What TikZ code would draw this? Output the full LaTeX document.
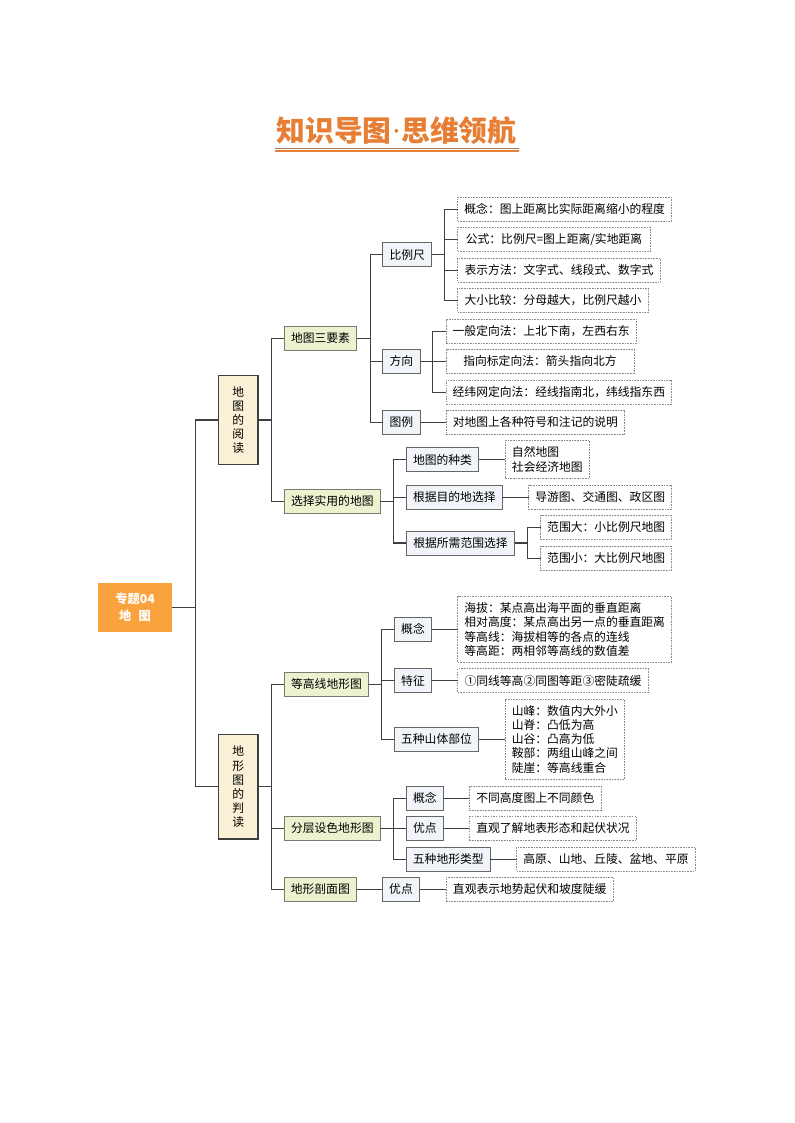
\documentclass[tikz,border=0pt]{standalone}
\usepackage{fontspec}
\setmainfont{Noto Sans CJK SC}
\newfontfamily\dotfont{Noto Sans}
\definecolor{lineC}{HTML}{404040}
\definecolor{rootF}{HTML}{F9A23E}
\definecolor{oneF}{HTML}{FAF1D6}
\definecolor{twoF}{HTML}{EBF2D0}
\definecolor{thrF}{HTML}{F1F5FA}
\definecolor{titleC}{HTML}{E67F35}
\definecolor{titleD}{HTML}{A9795A}
\tikzset{
  basebox/.style={inner sep=0pt,outer sep=0pt,align=center,text=black,font=\fontsize{8.85}{10.65}\selectfont},
  rootbox/.style={basebox,fill=rootF,text=white,font=\fontsize{9.2}{12.2}\selectfont\bfseries},
  onebox/.style={basebox,draw=lineC,fill=oneF,line width=0.95pt},
  twobox/.style={basebox,draw=black!50!twoF!70!gray,fill=twoF,line width=0.7pt},
  thrbox/.style={basebox,draw=lineC!80,fill=thrF,line width=0.7pt},
  notebox/.style={basebox,draw=black!45,dash pattern=on 1.2pt off 0.8pt,fill=white,line width=0.5pt},
  notel/.style={notebox,align=left},
  conn/.style={draw=lineC,line width=0.9pt,line join=miter}
}
% name, style, left, top, right, bottom, text
\newcommand{\bx}[7]{%
  \pgfmathsetmacro{\cxx}{(#3+#5)/2}%
  \pgfmathsetmacro{\cyy}{(#4+#6)/2}%
  \pgfmathsetmacro{\wwv}{(#5-#3)*0.75}%
  \pgfmathsetmacro{\hhv}{(#6-#4)*0.75}%
  \node[#2,minimum width=\wwv pt,minimum height=\hhv pt] (#1) at (\cxx,\cyy) {#7};}
% parent, child, trunk
\newcommand{\cn}[3]{\draw[conn] (#1.east) -- (#1.east -| #3) -- (#2.west -| #3) -- (#2.west);}
\begin{document}
\begin{tikzpicture}[x=0.75pt,y=-0.75pt]
\useasboundingbox (0,0) rectangle (794,1123);
\fill[white] (0,0) rectangle (794,1123);
% title
\node[inner sep=0pt,text=titleC,font=\fontsize{21.6}{24}\selectfont\bfseries] (title) at (396.5,131) {知识导图\hspace{0.03em}{\dotfont ·}\hspace{0.03em}思维领航};
\coordinate (ula) at (275,148.5);
\coordinate (ulb) at (519,148.5);
\coordinate (uca) at (275,151.2);
\coordinate (ucb) at (519,151.2);
\draw[titleD,line width=1.1pt] (ula) -- (ulb);
\draw[titleC,line width=1.2pt] (uca) -- (ucb);
% trunks
\coordinate (t0) at (195.5,0);
\coordinate (t1) at (271.5,0);
\coordinate (t2) at (370.5,0);
\coordinate (t3) at (444.5,0);
\coordinate (t4) at (432.5,0);
\coordinate (t5) at (393.5,0);
\coordinate (t6) at (527.5,0);
\coordinate (t7) at (381.5,0);
% nodes
\bx{root}{rootbox}{98.3}{582.7}{171.7}{631.7}{专题04\\地\hspace{0.6em}图}
\bx{a}{onebox}{218.3}{375.3}{258}{464.7}{地\\图\\的\\阅\\读}
\bx{b}{onebox}{218.3}{734.7}{258}{839}{地\\形\\图\\的\\判\\读}
\bx{a1}{twobox}{284.3}{326.3}{356.7}{350.3}{地图三要素}
\bx{a2}{twobox}{284.3}{489.3}{380.3}{513.3}{选择实用的地图}
\bx{b1}{twobox}{284.3}{672.3}{368.7}{696.3}{等高线地形图}
\bx{b2}{twobox}{284.3}{816.3}{380.3}{840.3}{分层设色地形图}
\bx{b3}{twobox}{284.3}{877.3}{356.3}{901.3}{地形剖面图}
\bx{a11}{thrbox}{382.7}{242.7}{431.7}{266.7}{比例尺}
\bx{a12}{thrbox}{382.7}{349.3}{420}{373.3}{方向}
\bx{a13}{thrbox}{382.7}{410.3}{420}{434.3}{图例}
\bx{a21}{thrbox}{406.3}{447.7}{478.7}{471.7}{地图的种类}
\bx{a22}{thrbox}{406.3}{485.3}{502.3}{509.3}{根据目的地选择}
\bx{a23}{thrbox}{406.3}{531}{514.7}{555}{根据所需范围选择}
\bx{b11}{thrbox}{394.3}{617.3}{431.7}{641.3}{概念}
\bx{b12}{thrbox}{394.3}{668.7}{431.7}{692.7}{特征}
\bx{b13}{thrbox}{394.3}{727.3}{478.7}{751.3}{五种山体部位}
\bx{b21}{thrbox}{406.3}{786.3}{443.3}{810.3}{概念}
\bx{b22}{thrbox}{406.3}{816.3}{443.3}{840.3}{优点}
\bx{b23}{thrbox}{406.3}{847.3}{490.3}{871.3}{五种地形类型}
\bx{b31}{thrbox}{382.3}{877.3}{419.7}{901.3}{优点}
\bx{n1}{notebox}{457.7}{197.3}{671.7}{221.3}{概念：图上距离比实际距离缩小的程度}
\bx{n2}{notebox}{457.7}{227.3}{650.3}{251.3}{公式：比例尺=图上距离/实地距离}
\bx{n3}{notebox}{457.7}{258.3}{660.3}{282.3}{表示方法：文字式、线段式、数字式}
\bx{n4}{notebox}{457.7}{288.3}{648.3}{312.3}{大小比较：分母越大，比例尺越小}
\bx{n5}{notebox}{446}{319.3}{636.3}{343.3}{一般定向法：上北下南，左西右东}
\bx{n6}{notebox}{446}{349.3}{634}{373.3}{指向标定向法：箭头指向北方}
\bx{n7}{notebox}{446}{380.3}{671.7}{404.3}{经纬网定向法：经线指南北，纬线指东西}
\bx{n8}{notebox}{446}{410.3}{624.7}{434.3}{对地图上各种符号和注记的说明}
\bx{n9}{notel}{505}{440.7}{589.7}{478.3}{自然地图\\社会经济地图}
\bx{n10}{notebox}{528.7}{485.3}{671.7}{509.3}{导游图、交通图、政区图}
\bx{n11}{notebox}{540.7}{515.3}{671.7}{539.3}{范围大：小比例尺地图}
\bx{n12}{notebox}{540.7}{546.3}{671.7}{570.3}{范围小：大比例尺地图}
\bx{n13}{notel}{457.7}{596.7}{671.7}{662.3}{海拔：某点高出海平面的垂直距离\\相对高度：某点高出另一点的垂直距离\\等高线：海拔相等的各点的连线\\等高距：两相邻等高线的数值差}
\bx{n14}{notebox}{457.7}{668.7}{648.3}{692.7}{①同线等高②同图等距③密陡疏缓}
\bx{n15}{notel}{505}{699.3}{624.7}{779.3}{山峰：数值内大外小\\山脊：凸低为高\\山谷：凸高为低\\鞍部：两组山峰之间\\陡崖：等高线重合}
\bx{n16}{notebox}{469.3}{786.3}{601.3}{810.3}{不同高度图上不同颜色}
\bx{n17}{notebox}{469.3}{816.3}{636.7}{840.3}{直观了解地表形态和起伏状况}
\bx{n18}{notebox}{516.7}{847.3}{695.3}{871.3}{高原、山地、丘陵、盆地、平原}
\bx{n19}{notebox}{446}{877.3}{613.3}{901.3}{直观表示地势起伏和坡度陡缓}
% connectors
\cn{root}{a}{t0}\cn{root}{b}{t0}
\cn{a}{a1}{t1}\cn{a}{a2}{t1}
\cn{b}{b1}{t1}\cn{b}{b2}{t1}\cn{b}{b3}{t1}
\cn{a1}{a11}{t2}\cn{a1}{a12}{t2}\cn{a1}{a13}{t2}
\cn{a2}{a21}{t5}\cn{a2}{a22}{t5}\cn{a2}{a23}{t5}
\cn{b1}{b11}{t7}\cn{b1}{b12}{t7}\cn{b1}{b13}{t7}
\cn{b2}{b21}{t5}\cn{b2}{b22}{t5}\cn{b2}{b23}{t5}
\draw[conn] (b3) -- (b31);
\cn{a11}{n1}{t3}\cn{a11}{n2}{t3}\cn{a11}{n3}{t3}\cn{a11}{n4}{t3}
\cn{a12}{n5}{t4}\cn{a12}{n6}{t4}\cn{a12}{n7}{t4}
\draw[conn] (a13) -- (n8);
\draw[conn] (a21) -- (a21.east -| n9.west);
\draw[conn] (a22) -- (n10);
\cn{a23}{n11}{t6}\cn{a23}{n12}{t6}
\draw[conn] (b11) -- (b11.east -| n13.west);
\draw[conn] (b12) -- (n14);
\draw[conn] (b13) -- (b13.east -| n15.west);
\draw[conn] (b21) -- (n16);
\draw[conn] (b22) -- (n17);
\draw[conn] (b23) -- (n18);
\draw[conn] (b31) -- (n19);
\end{tikzpicture}
\end{document}
